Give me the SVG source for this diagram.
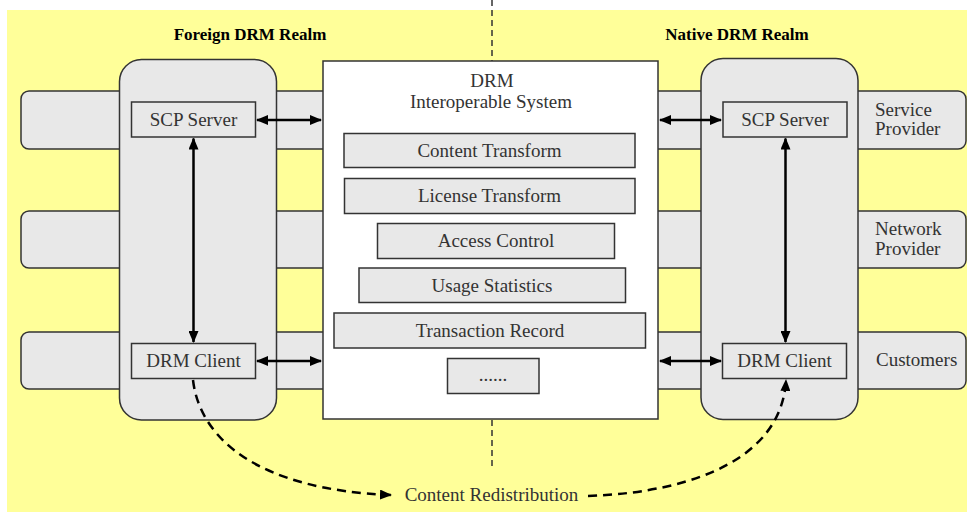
<svg xmlns="http://www.w3.org/2000/svg" width="967" height="512" viewBox="0 0 967 512">
<defs>
<style>
.band{fill:#e8e8e8;stroke:#333;stroke-width:1.5}
.realm{fill:#e8e8e8;stroke:#333;stroke-width:1.5}
.box{fill:#e8e8e8;stroke:#333;stroke-width:1.5}
.sys{fill:#fff;stroke:#333;stroke-width:1.5}
.t{font-family:"Liberation Serif","DejaVu Serif",serif;font-size:19px;fill:#333;text-anchor:middle}
.tl{font-family:"Liberation Serif","DejaVu Serif",serif;font-size:19px;fill:#333}
.title{font-family:"Liberation Serif","DejaVu Serif",serif;font-size:17px;font-weight:bold;fill:#000;text-anchor:middle}
.arr{fill:none;stroke:#000;stroke-width:2.5;marker-start:url(#ah);marker-end:url(#ah)}
.dash{fill:none;stroke:#000;stroke-width:2.5;stroke-dasharray:9 6;marker-end:url(#ah)}
.div{fill:none;stroke:#333;stroke-width:1.5;stroke-dasharray:6 4}
</style>
<marker id="ah" markerUnits="userSpaceOnUse" markerWidth="12" markerHeight="10" refX="11" refY="5" orient="auto-start-reverse">
<path d="M0,0 L12,5 L0,10 z" fill="#000"/>
</marker>
</defs>
<rect x="7" y="10" width="960" height="502" fill="#ffff99"/>
<g id="divider">
<line class="div" x1="492" y1="0" x2="492" y2="61"/>
<line class="div" x1="492" y1="420" x2="492" y2="470"/>
</g>
<g id="bands">
<rect class="band" x="21" y="91" width="320" height="58" rx="8"/>
<rect class="band" x="21" y="211" width="320" height="57" rx="8"/>
<rect class="band" x="21" y="332" width="320" height="57" rx="8"/>
<rect class="band" x="640" y="91" width="326" height="58" rx="8"/>
<rect class="band" x="640" y="211" width="326" height="57" rx="8"/>
<rect class="band" x="640" y="332" width="326" height="57" rx="8"/>
</g>
<g id="band-labels">
<text class="tl" x="875" y="116">Service</text>
<text class="tl" x="875" y="135">Provider</text>
<text class="tl" x="875" y="235">Network</text>
<text class="tl" x="875" y="255">Provider</text>
<text class="tl" x="876" y="366">Customers</text>
</g>
<g id="foreign-realm">
<text class="title" x="250" y="40">Foreign DRM Realm</text>
<rect class="realm" x="119.5" y="59.5" width="157" height="360.5" rx="22"/>
</g>
<g id="native-realm">
<text class="title" x="737" y="40">Native DRM Realm</text>
<rect class="realm" x="701" y="58.5" width="157" height="361" rx="22"/>
</g>
<g id="foreign-scp-server">
<rect class="box" x="131.5" y="102" width="124" height="35"/>
<text class="t" x="193.5" y="126">SCP Server</text>
</g>
<g id="foreign-drm-client">
<rect class="box" x="131.5" y="343.5" width="124" height="35"/>
<text class="t" x="193.5" y="367">DRM Client</text>
</g>
<g id="native-scp-server">
<rect class="box" x="723" y="102" width="124" height="35"/>
<text class="t" x="785" y="126">SCP Server</text>
</g>
<g id="native-drm-client">
<rect class="box" x="722.5" y="343.5" width="124" height="35"/>
<text class="t" x="784.5" y="367">DRM Client</text>
</g>
<g id="interop-system">
<rect class="sys" x="323" y="61" width="335" height="358"/>
<text class="t" x="492" y="87">DRM</text>
<text class="t" x="491" y="108">Interoperable System</text>
</g>
<g id="content-transform">
<rect class="box" x="344" y="133.5" width="291" height="34"/>
<text class="t" x="489.5" y="157">Content Transform</text>
</g>
<g id="license-transform">
<rect class="box" x="344.5" y="178.5" width="290.5" height="35"/>
<text class="t" x="489.5" y="202">License Transform</text>
</g>
<g id="access-control">
<rect class="box" x="377.5" y="223.5" width="237" height="35"/>
<text class="t" x="496" y="247">Access Control</text>
</g>
<g id="usage-statistics">
<rect class="box" x="359" y="268" width="266.5" height="34.5"/>
<text class="t" x="492" y="292">Usage Statistics</text>
</g>
<g id="transaction-record">
<rect class="box" x="334" y="313" width="311.5" height="35"/>
<text class="t" x="490" y="337">Transaction Record</text>
</g>
<g id="more">
<rect class="box" x="447.5" y="358.5" width="91.5" height="35"/>
<text class="t" x="493" y="381">......</text>
</g>
<g id="connectors">
<line class="arr" x1="257" y1="120" x2="321" y2="120"/>
<line class="arr" x1="257" y1="361" x2="321" y2="361"/>
<line class="arr" x1="660" y1="120" x2="721" y2="120"/>
<line class="arr" x1="660" y1="361" x2="721" y2="361"/>
<line class="arr" x1="193.5" y1="138.5" x2="193.5" y2="342"/>
<line class="arr" x1="785.5" y1="138.5" x2="785.5" y2="342"/>
<path class="dash" d="M193,380 C200,440 260,490 391,495"/>
<path class="dash" d="M588,496 C700,492 782,455 786,380"/>
</g>
<g id="redistribution-label">
<text class="t" x="491.5" y="501">Content Redistribution</text>
</g>
</svg>
